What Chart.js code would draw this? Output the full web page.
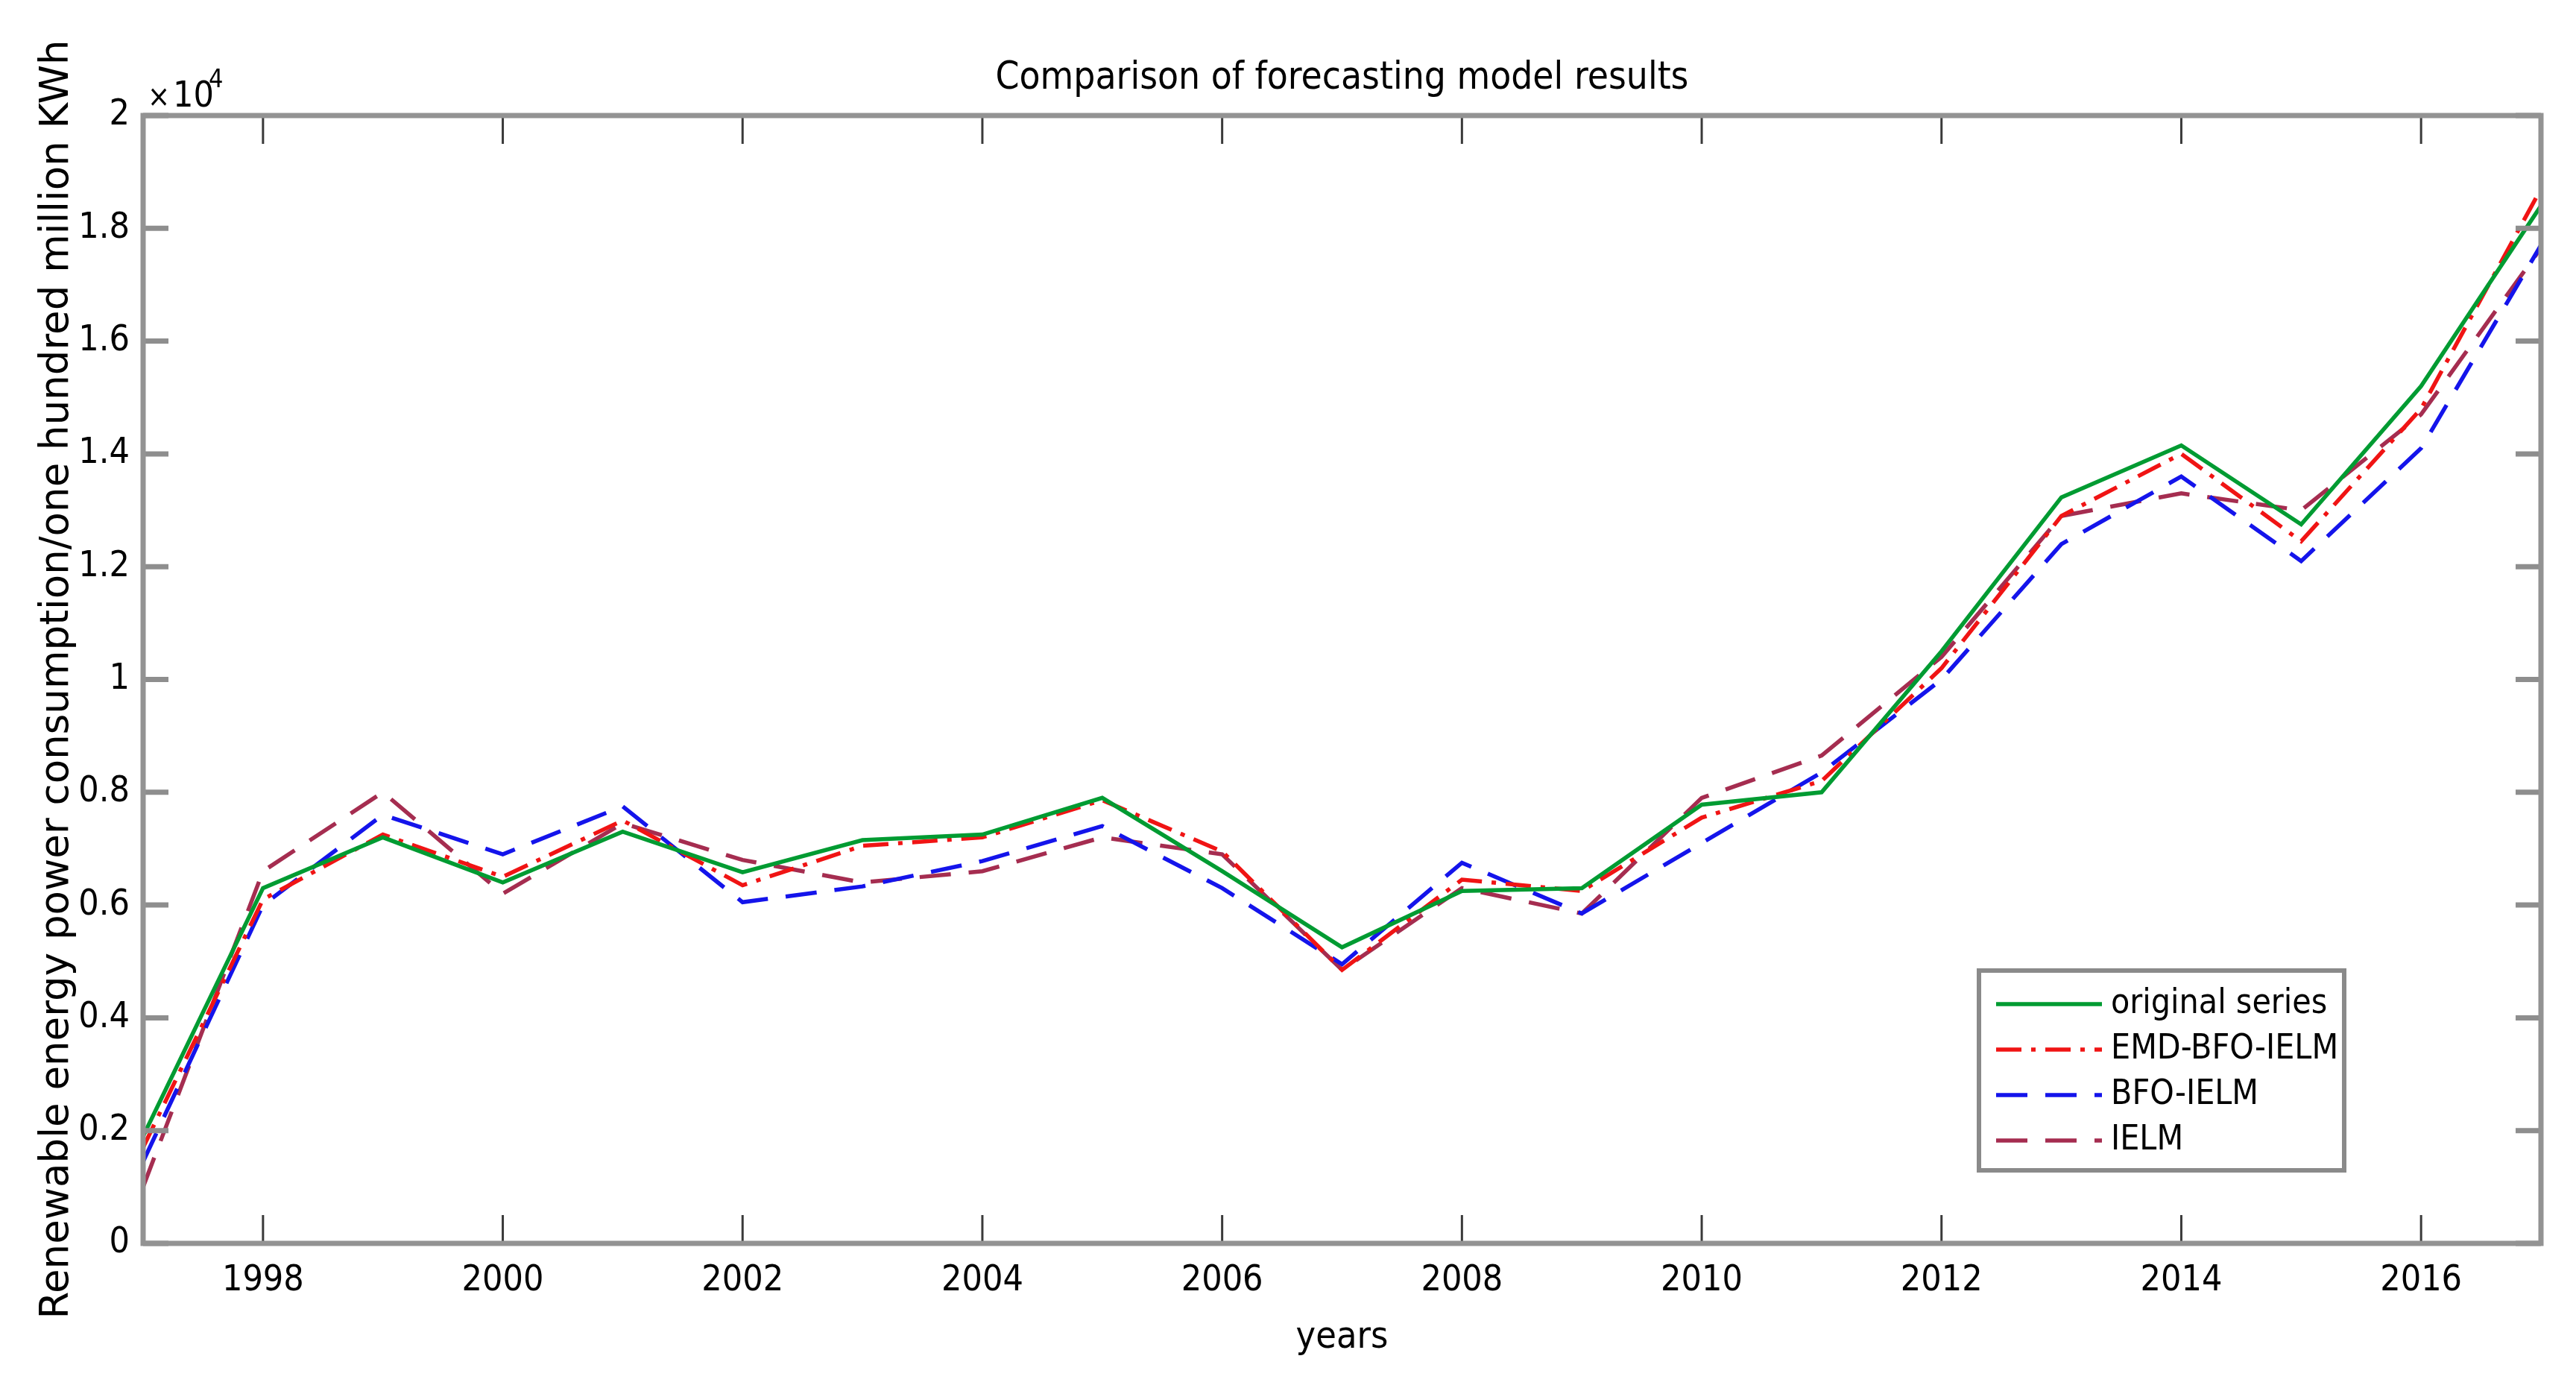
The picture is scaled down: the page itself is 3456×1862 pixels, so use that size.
<!DOCTYPE html>
<html>
<head>
<meta charset="utf-8">
<title>Comparison of forecasting model results</title>
<script src="https://cdn.jsdelivr.net/npm/chart.js@4.4.1/dist/chart.umd.min.js"></script>
<style>
    html, body { margin: 0; padding: 0; background: #fff; }
    #wrap { width: 3456px; height: 1862px; }
</style>
</head>
<body>
<div id="wrap"><canvas id="forecastChart" width="3456" height="1862"></canvas></div>
<script>
// Data (renewable power consumption, hundred million KWh)
const years = [1997, 1998, 1999, 2000, 2001, 2002, 2003, 2004, 2005, 2006, 2007,
               2008, 2009, 2010, 2011, 2012, 2013, 2014, 2015, 2016, 2017];
const xTicks = [1998, 2000, 2002, 2004, 2006, 2008, 2010, 2012, 2014, 2016];
const yTicks = [0, 2000, 4000, 6000, 8000, 10000, 12000, 14000, 16000, 18000, 20000];

const originalSeries = [1900, 6300, 7200, 6400, 7300, 6580, 7150, 7250, 7900, 6600, 5250,
                        6250, 6300, 7780, 8000, 10500, 13230, 14150, 12750, 15200, 18400];
const emdBfoIelm = [1700, 6100, 7250, 6500, 7500, 6350, 7050, 7200, 7860, 6950, 4850,
                    6450, 6250, 7550, 8200, 10200, 12900, 14000, 12450, 14800, 18700];
const bfoIelm = [1450, 6000, 7600, 6900, 7750, 6050, 6330, 6780, 7400, 6300, 4950,
                 6750, 5850, 7100, 8350, 10000, 12400, 13600, 12100, 14100, 17700];
const ielm = [1000, 6600, 8000, 6200, 7450, 6800, 6400, 6600, 7200, 6900, 4850,
              6300, 5850, 7900, 8650, 10400, 12900, 13300, 13000, 14700, 17650];

const seriesNames = ['original series', 'EMD-BFO-IELM', 'BFO-IELM', 'IELM'];

const NARROW = "'Liberation Sans Narrow', 'Arial Narrow', 'DejaVu Sans Condensed', sans-serif";

function toPoints(values) {
    return years.map((yr, i) => ({ x: yr, y: values[i] }));
}

// Box, inward ticks, title, exponent and legend (MATLAB style)
const matlabAxes = {
    id: 'matlabAxes',
    afterDatasetsDraw(chart) {
        const { ctx, chartArea: a, scales: { x, y } } = chart;
        ctx.save();

        // x ticks, top and bottom
        ctx.strokeStyle = '#3a3a3a';
        ctx.lineWidth = 3;
        xTicks.forEach(v => {
            const px = x.getPixelForValue(v);
            ctx.beginPath();
            ctx.moveTo(px, a.bottom);
            ctx.lineTo(px, a.bottom - 38);
            ctx.moveTo(px, a.top);
            ctx.lineTo(px, a.top + 38);
            ctx.stroke();
        });

        // y ticks, left and right
        ctx.strokeStyle = '#8e8e8e';
        ctx.lineWidth = 7;
        yTicks.forEach(v => {
            const py = y.getPixelForValue(v);
            ctx.beginPath();
            ctx.moveTo(a.left, py);
            ctx.lineTo(a.left + 34, py);
            ctx.moveTo(a.right, py);
            ctx.lineTo(a.right - 34, py);
            ctx.stroke();
        });

        // axes box
        ctx.strokeStyle = '#939393';
        ctx.lineWidth = 7;
        ctx.strokeRect(a.left, a.top, a.right - a.left, a.bottom - a.top);

        // title
        ctx.fillStyle = '#000';
        ctx.textAlign = 'center';
        ctx.textBaseline = 'middle';
        ctx.font = '51px ' + NARROW;
        ctx.fillText('Comparison of forecasting model results', (a.left + a.right) / 2, 106);

        // x10^4 exponent
        ctx.textAlign = 'left';
        ctx.textBaseline = 'alphabetic';
        ctx.font = '40px ' + NARROW;
        ctx.fillText('\u00d7', a.left + 6, 143);
        ctx.font = '48px ' + NARROW;
        ctx.fillText('10', a.left + 40, 143);
        ctx.font = '34px ' + NARROW;
        ctx.fillText('4', a.left + 88, 117);

        // legend
        const lx = 2655, ly = 1302, lw = 490, lh = 268;
        ctx.fillStyle = '#fff';
        ctx.fillRect(lx, ly, lw, lh);
        ctx.strokeStyle = '#8a8a8a';
        ctx.lineWidth = 6;
        ctx.strokeRect(lx, ly, lw, lh);
        ctx.font = '46px ' + NARROW;
        ctx.textBaseline = 'middle';
        chart.data.datasets.forEach((ds, i) => {
            const rowY = 1347 + i * 61;
            ctx.strokeStyle = ds.borderColor;
            ctx.lineWidth = ds.borderWidth;
            ctx.setLineDash(ds.borderDash || []);
            ctx.beginPath();
            ctx.moveTo(2678, rowY);
            ctx.lineTo(2820, rowY);
            ctx.stroke();
            ctx.setLineDash([]);
            ctx.fillStyle = '#000';
            ctx.fillText(ds.label, 2832, rowY);
        });

        ctx.restore();
    }
};

Chart.defaults.font.family = NARROW;
Chart.defaults.color = '#000';

new Chart(document.getElementById('forecastChart').getContext('2d'), {
    type: 'line',
    data: {
        datasets: [
            {
                label: seriesNames[0],
                data: toPoints(originalSeries),
                borderColor: 'rgb(0, 155, 50)',
                borderWidth: 5.5
            },
            {
                label: seriesNames[1],
                data: toPoints(emdBfoIelm),
                borderColor: 'rgb(240, 20, 20)',
                borderWidth: 5.5,
                borderDash: [34, 13, 6, 13]
            },
            {
                label: seriesNames[2],
                data: toPoints(bfoIelm),
                borderColor: 'rgb(20, 20, 235)',
                borderWidth: 5.5,
                borderDash: [42, 24]
            },
            {
                label: seriesNames[3],
                data: toPoints(ielm),
                borderColor: 'rgb(165, 45, 80)',
                borderWidth: 5.5,
                borderDash: [42, 24]
            }
        ]
    },
    options: {
        responsive: false,
        animation: false,
        devicePixelRatio: 1,
        layout: {
            padding: { left: 0, right: 47, top: 155, bottom: 0 }
        },
        elements: {
            point: { radius: 0 },
            line: { tension: 0, fill: false }
        },
        plugins: {
            legend: { display: false },
            title: { display: false },
            tooltip: { enabled: false }
        },
        scales: {
            x: {
                type: 'linear',
                min: 1997,
                max: 2017,
                afterBuildTicks: scale => {
                    scale.ticks = xTicks.map(v => ({ value: v }));
                },
                afterFit: scale => { scale.height = 194; },
                grid: { display: false, drawTicks: false },
                border: { display: false },
                ticks: {
                    padding: 22,
                    font: { size: 48 },
                    callback: v => String(v)
                },
                title: {
                    display: true,
                    text: 'years',
                    font: { size: 50 },
                    padding: { top: 0, bottom: 37 }
                }
            },
            y: {
                min: 0,
                max: 20000,
                afterBuildTicks: scale => {
                    scale.ticks = yTicks.map(v => ({ value: v }));
                },
                afterFit: scale => { scale.width = 192; },
                grid: { display: false, drawTicks: false },
                border: { display: false },
                ticks: {
                    padding: 18,
                    font: { size: 48 },
                    callback: v => String(v / 10000)
                },
                title: {
                    display: true,
                    text: 'Renewable energy power consumption/one hundred million KWh',
                    font: { size: 53, family: "'DejaVu Sans', sans-serif" },
                    padding: { top: 45, bottom: 0 }
                }
            }
        }
    },
    plugins: [matlabAxes]
});
</script>
</body>
</html>
